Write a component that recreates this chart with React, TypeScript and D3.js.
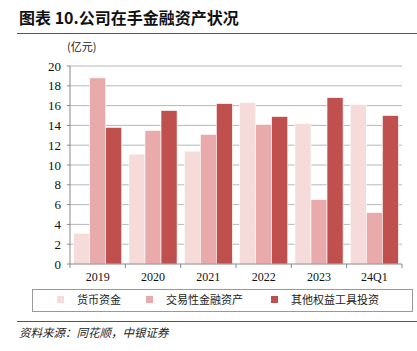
import React from 'react';
import * as d3 from 'd3';

const periods = ['2019', '2020', '2021', '2022', '2023', '24Q1'];
const seriesNames = ['货币资金', '交易性金融资产', '其他权益工具投资'];
const cash = [3.1, 11.1, 11.4, 16.3, 14.2, 16.1];
const trading = [18.8, 13.5, 13.1, 14.1, 6.5, 5.2];
const otherEquity = [13.8, 15.5, 16.2, 14.9, 16.8, 15.0];
const yTicks = [0, 2, 4, 6, 8, 10, 12, 14, 16, 18, 20];
const colors = ['#F6DBDB', '#E8AAAA', '#C0504D'];

const W = 417;
const H = 351;
const serif = '"Liberation Serif", "Times New Roman", serif';
const cjk = '"Noto Sans CJK SC", sans-serif';

export default function App() {
  const margin = { top: 66, right: 15, bottom: 87, left: 70 };
  const innerW = W - margin.left - margin.right;
  const innerH = H - margin.top - margin.bottom;

  const x = d3.scaleBand<string>().domain(periods).range([0, innerW]).paddingInner(0.13).paddingOuter(0.065);
  const xOuter = d3.scaleBand<string>().domain(periods).range([0, innerW]);
  const xSub = d3.scaleBand<number>().domain([0, 1, 2]).range([0, x.bandwidth()]);
  const y = d3.scaleLinear().domain([0, 20]).range([innerH, 0]);

  const all = [cash, trading, otherEquity];

  return (
    <div style={{ position: 'absolute', left: 0, top: 0 }}>
      <svg width={W} height={H} style={{ display: 'block', background: '#fff' }}>
        <text x={19} y={24} fontFamily={cjk} fontWeight={700} fontSize={16} fill="#111">
          图表 10.公司在手金融资产状况
        </text>
        <line x1={17} x2={W} y1={33.5} y2={33.5} stroke="#555" strokeWidth={1.2} />
        <text x={67} y={51} fontFamily={cjk} fontSize={11} fill="#222">(亿元)</text>

        <g transform={`translate(${margin.left},${margin.top})`}>
          {yTicks.map(t => (
            <g key={t}>
              {t > 0 && (
                <line x1={0} x2={innerW} y1={y(t)} y2={y(t)} stroke="#9a9a9a" strokeWidth={0.7} />
              )}
              <line x1={-3} x2={0} y1={y(t)} y2={y(t)} stroke="#888" />
              <text x={-9} y={y(t)} dy="0.35em" textAnchor="end" fontFamily={serif} fontSize={13} fill="#111">
                {t}
              </text>
            </g>
          ))}
          {periods.map((p, i) =>
            all.map((s, k) => (
              <rect
                key={p + k}
                x={x(p)! + xSub(k)!}
                y={y(s[i])}
                width={xSub.bandwidth()}
                height={innerH - y(s[i])}
                fill={colors[k]}
                stroke="#fff"
                strokeWidth={0.6}
              />
            ))
          )}
          <line x1={0} x2={0} y1={0} y2={innerH} stroke="#888" />
          <line x1={0} x2={innerW} y1={innerH} y2={innerH} stroke="#888" />
          {periods.map(p => (
            <line key={'t' + p} x1={xOuter(p)!} x2={xOuter(p)!} y1={innerH} y2={innerH + 4} stroke="#888" />
          ))}
          <line x1={innerW} x2={innerW} y1={innerH} y2={innerH + 4} stroke="#888" />
          {periods.map(p => (
            <text key={'l' + p} x={xOuter(p)! + xOuter.bandwidth() / 2} y={innerH + 17} textAnchor="middle" fontFamily={serif} fontSize={12} fill="#111">
              {p}
            </text>
          ))}
        </g>

        <rect x={32.5} y={289.5} width={380} height={22} fill="none" stroke="#999" />
        {seriesNames.map((n, k) => {
          const lx = [57, 146, 271][k];
          return (
            <g key={n}>
              <rect x={lx} y={296} width={7} height={7} fill={colors[k]} />
              <text x={lx + 20} y={300} dy="0.35em" fontFamily={cjk} fontSize={11} fill="#222">{n}</text>
            </g>
          );
        })}
        <line x1={17} x2={W} y1={321.5} y2={321.5} stroke="#555" strokeWidth={1.2} />
        <text x={19} y={337} fontFamily={cjk} fontStyle="italic" fontSize={11.5} fill="#222">
          资料来源：同花顺，中银证券
        </text>
      </svg>
    </div>
  );
}
